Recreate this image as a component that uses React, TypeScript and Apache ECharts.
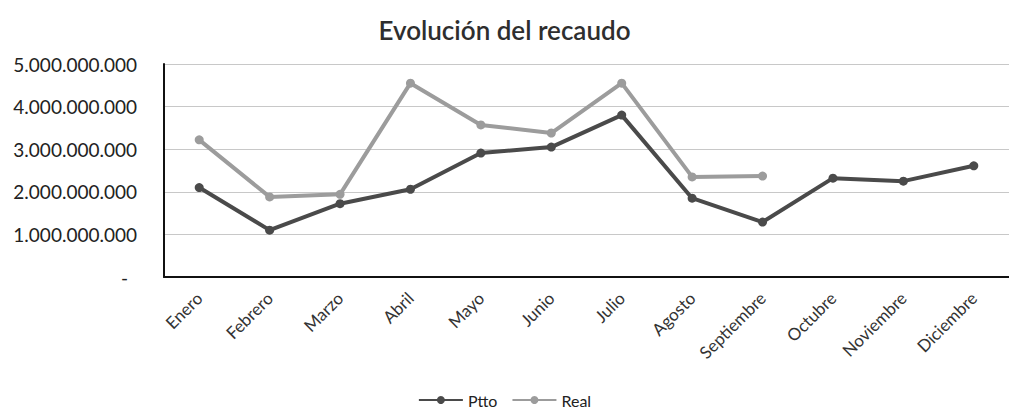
import React, { useEffect, useRef } from "react";
import * as echarts from "echarts";

const categories = ["Enero", "Febrero", "Marzo", "Abril", "Mayo", "Junio", "Julio", "Agosto", "Septiembre", "Octubre", "Noviembre", "Diciembre"];
const ptto = [2100000000, 1100000000, 1720000000, 2060000000, 2910000000, 3050000000, 3800000000, 1850000000, 1290000000, 2320000000, 2250000000, 2610000000];
const real = [3220000000, 1880000000, 1940000000, 4550000000, 3570000000, 3380000000, 4550000000, 2350000000, 2370000000, null, null, null];
const yTicks = { min: 0, max: 5000000000, interval: 1000000000 };

const fmt = (v: number) => (v === 0 ? "{d|-}" : String(v).replace(/\B(?=(\d{3})+(?!\d))/g, "."));

export default function App() {
  const ref = useRef<HTMLDivElement>(null);
  useEffect(() => {
    const chart = echarts.init(ref.current!, null, { renderer: "svg" });
    const font = "Lato, 'Open Sans', sans-serif";
    chart.setOption({
      animation: false,
      backgroundColor: "#ffffff",
      title: {
        text: "Evolución del recaudo",
        left: "center",
        top: 12,
        textStyle: { fontFamily: font, fontSize: 26, fontWeight: 600, color: "#2e2e2e" },
      },
      legend: {
        bottom: 3,
        left: "center",
        itemWidth: 44,
        itemHeight: 10,
        itemGap: 14,
        textStyle: { fontFamily: font, fontSize: 16, color: "#222" },
        data: ["Ptto", "Real"],
      },
      grid: { left: 164, right: -11, top: 64, bottom: 139, containLabel: false },
      xAxis: {
        type: "category",
        data: categories,
        boundaryGap: true,
        axisLine: { lineStyle: { color: "#111", width: 2 } },
        axisTick: { show: false },
        axisLabel: { rotate: 45, fontFamily: font, fontSize: 17, color: "#333", margin: 18, interval: 0 },
      },
      yAxis: {
        type: "value",
        min: yTicks.min,
        max: yTicks.max,
        interval: yTicks.interval,
        axisLine: { show: true, lineStyle: { color: "#111", width: 2 } },
        axisTick: { show: false },
        splitLine: { lineStyle: { color: "#c8c8c8", width: 1 } },
        axisLabel: {
          formatter: fmt,
          margin: 27,
          fontFamily: font,
          fontSize: 19,
          color: "#222",
          rich: { d: { fontFamily: font, fontSize: 19, color: "#222", padding: [0, 9, 0, 0] } },
        },
      },
      series: [
        {
          name: "Ptto",
          type: "line",
          data: ptto,
          symbol: "circle",
          symbolSize: 9,
          lineStyle: { color: "#4a4a4a", width: 4 },
          itemStyle: { color: "#4a4a4a" },
        },
        {
          name: "Real",
          type: "line",
          data: real,
          symbol: "circle",
          symbolSize: 9,
          connectNulls: false,
          lineStyle: { color: "#9c9c9c", width: 4 },
          itemStyle: { color: "#9c9c9c" },
        },
      ],
    });
    return () => chart.dispose();
  }, []);
  return <div ref={ref} style={{ position: "fixed", left: 0, top: 0, width: 1009, height: 416 }} />;
}
